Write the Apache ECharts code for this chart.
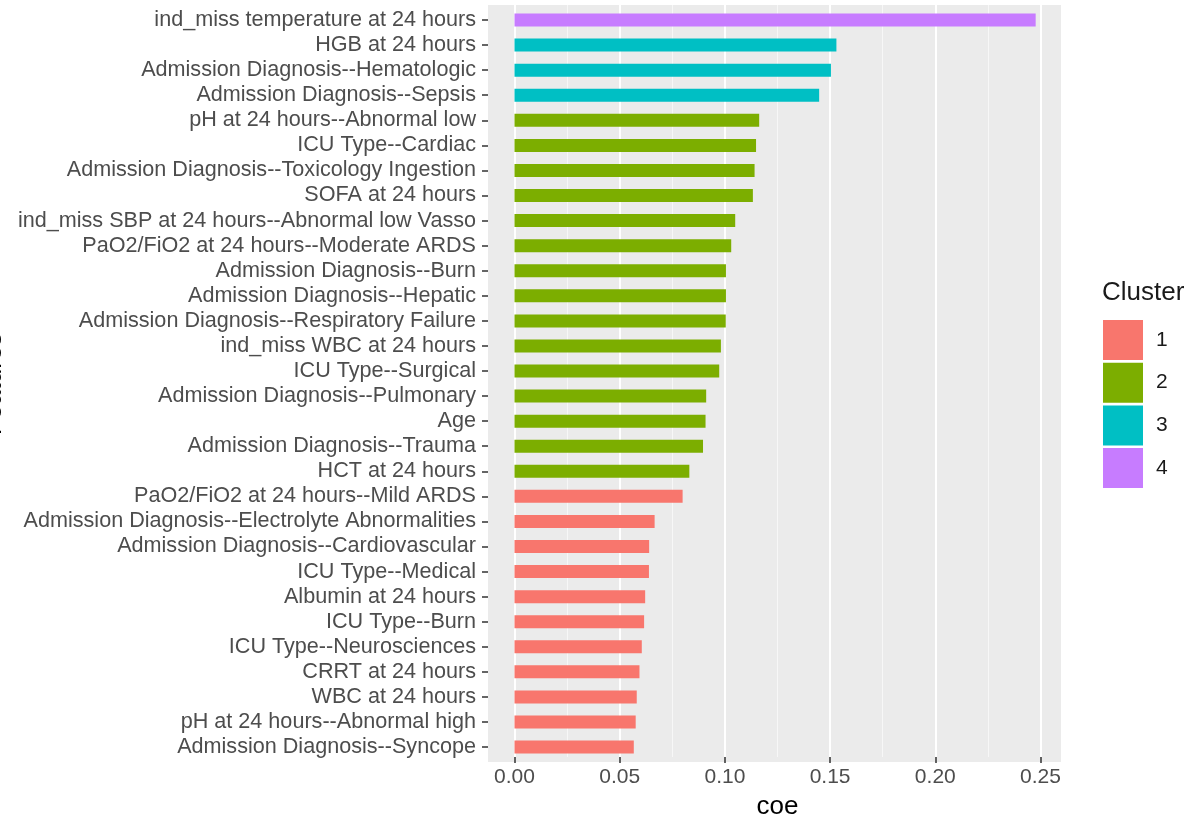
<!DOCTYPE html>
<html>
<head>
<meta charset="utf-8">
<script src="https://cdn.jsdelivr.net/npm/echarts@6/dist/echarts.min.js"></script>
<style>
html,body{margin:0;padding:0;background:#fff;}
#chart{width:1190px;height:825px;}
</style>
</head>
<body>
<div id="chart"></div>
<script>
// Features, top to bottom
const features = [
  'ind_miss temperature at 24 hours',
  'HGB at 24 hours',
  'Admission Diagnosis--Hematologic',
  'Admission Diagnosis--Sepsis',
  'pH at 24 hours--Abnormal low',
  'ICU Type--Cardiac',
  'Admission Diagnosis--Toxicology Ingestion',
  'SOFA at 24 hours',
  'ind_miss SBP at 24 hours--Abnormal low Vasso',
  'PaO2/FiO2 at 24 hours--Moderate ARDS',
  'Admission Diagnosis--Burn',
  'Admission Diagnosis--Hepatic',
  'Admission Diagnosis--Respiratory Failure',
  'ind_miss WBC at 24 hours',
  'ICU Type--Surgical',
  'Admission Diagnosis--Pulmonary',
  'Age',
  'Admission Diagnosis--Trauma',
  'HCT at 24 hours',
  'PaO2/FiO2 at 24 hours--Mild ARDS',
  'Admission Diagnosis--Electrolyte Abnormalities',
  'Admission Diagnosis--Cardiovascular',
  'ICU Type--Medical',
  'Albumin at 24 hours',
  'ICU Type--Burn',
  'ICU Type--Neurosciences',
  'CRRT at 24 hours',
  'WBC at 24 hours',
  'pH at 24 hours--Abnormal high',
  'Admission Diagnosis--Syncope'
];
const coe = [
  0.2477, 0.1530, 0.1504, 0.1448, 0.1163, 0.1148, 0.1141, 0.1133, 0.1049, 0.1030,
  0.1005, 0.1005, 0.1004, 0.0981, 0.0973, 0.0911, 0.0908, 0.0896, 0.0831, 0.0799,
  0.0666, 0.0640, 0.0639, 0.0621, 0.0616, 0.0605, 0.0594, 0.0581, 0.0576, 0.0567
];
const cluster = [
  4, 3, 3, 3, 2, 2, 2, 2, 2, 2,
  2, 2, 2, 2, 2, 2, 2, 2, 2, 1,
  1, 1, 1, 1, 1, 1, 1, 1, 1, 1
];
const clusterNames = ['1', '2', '3', '4'];
const clusterColors = ['#F8766D', '#7CAE00', '#00BFC4', '#C77CFF'];
const xTickMin = 0, xTickMax = 0.25, xTickStep = 0.05;

const FONT = '"Liberation Sans", Arial, Helvetica, sans-serif';
const AXIS_FS = 21.6;

const series = clusterNames.map((name, k) => ({
  name: name,
  type: 'bar',
  stack: 'all',
  xAxisIndex: 0,
  yAxisIndex: 0,
  barWidth: 13,
  z: 3,
  itemStyle: { color: clusterColors[k] },
  emphasis: { disabled: true },
  data: features.map((f, i) => (cluster[i] === Number(name) ? coe[i] : '-'))
}));

// grid 0: bars (data area, category centres as in ggplot)
// grid 1: y-axis labels/ticks (same vertical extent, at panel's left edge)
// grid 2: x-axis ticks/labels/grid lines (full panel height)
// grid 3: grey panel background
const chart = echarts.init(document.getElementById('chart'), null, { renderer: 'canvas' });
chart.setOption({
  animation: false,
  backgroundColor: '#ffffff',
  textStyle: { fontFamily: FONT },
  title: {
    text: 'Cluster',
    left: 1102,
    top: 280,
    padding: 0,
    textStyle: { fontFamily: FONT, fontSize: 26, fontWeight: 'normal', color: '#1a1a1a' }
  },
  legend: {
    orient: 'vertical',
    left: 1103,
    top: 320,
    padding: 0,
    itemWidth: 40,
    itemHeight: 40,
    itemGap: 2.7,
    icon: 'rect',
    selectedMode: false,
    data: clusterNames,
    textStyle: { fontFamily: FONT, fontSize: 21, color: '#1a1a1a', padding: [0, 0, 0, 8] }
  },
  grid: [
    { left: 514.5, right: 149.5, top: 7.5, bottom: 65.4, z: 2 },
    { left: 488, right: 129, top: 7.5, bottom: 65.4, z: 1 },
    { left: 514.5, right: 149.5, top: 5, bottom: 63, z: 1 },
    { left: 488, right: 129, top: 5, bottom: 63, show: true, backgroundColor: '#EBEBEB', borderWidth: 0, z: 0 }
  ],
  xAxis: [
    {
      type: 'value', gridIndex: 0, min: xTickMin, max: xTickMax, interval: xTickStep,
      show: false, splitLine: { show: false }
    },
    { type: 'value', gridIndex: 1, show: false, splitLine: { show: false } },
    {
      type: 'value',
      gridIndex: 2,
      min: xTickMin,
      max: xTickMax,
      interval: xTickStep,
      z: 1,
      name: 'coe',
      nameLocation: 'middle',
      nameGap: 37,
      nameTextStyle: { fontFamily: FONT, fontSize: 26, color: '#000000' },
      axisLine: { show: false },
      axisTick: { show: true, length: 6, lineStyle: { color: '#333333', width: 1.5 } },
      axisLabel: {
        fontFamily: FONT, fontSize: 21, color: '#4D4D4D', margin: 10,
        formatter: v => v.toFixed(2)
      },
      splitLine: { show: true, lineStyle: { color: '#FFFFFF', width: 2 } },
      minorTick: { show: false, splitNumber: 2 },
      minorSplitLine: { show: true, lineStyle: { color: '#F7F7F7', width: 1 } }
    },
    { type: 'value', gridIndex: 3, show: false, splitLine: { show: false } }
  ],
  yAxis: [
    {
      type: 'category', gridIndex: 0, data: features, inverse: true, show: false,
      splitLine: { show: false }
    },
    {
      type: 'category',
      gridIndex: 1,
      data: features,
      inverse: true,
      z: 1,
      axisLine: { show: false },
      axisTick: { show: true, length: 6, alignWithLabel: true, lineStyle: { color: '#333333', width: 1.5 } },
      axisLabel: { fontFamily: FONT, fontSize: AXIS_FS, color: '#4D4D4D', margin: 12, interval: 0 },
      splitLine: { show: false }
    },
    { type: 'category', gridIndex: 2, show: false, data: features, splitLine: { show: false } },
    { type: 'category', gridIndex: 3, show: false, data: features, splitLine: { show: false } }
  ],
  graphic: [
    {
      type: 'text',
      x: -6,
      y: 384,
      rotation: Math.PI / 2,
      style: {
        text: 'Features',
        fontFamily: FONT,
        fontSize: 26,
        fill: '#000000',
        align: 'center',
        verticalAlign: 'middle'
      }
    }
  ],
  series: series
});
</script>
</body>
</html>
